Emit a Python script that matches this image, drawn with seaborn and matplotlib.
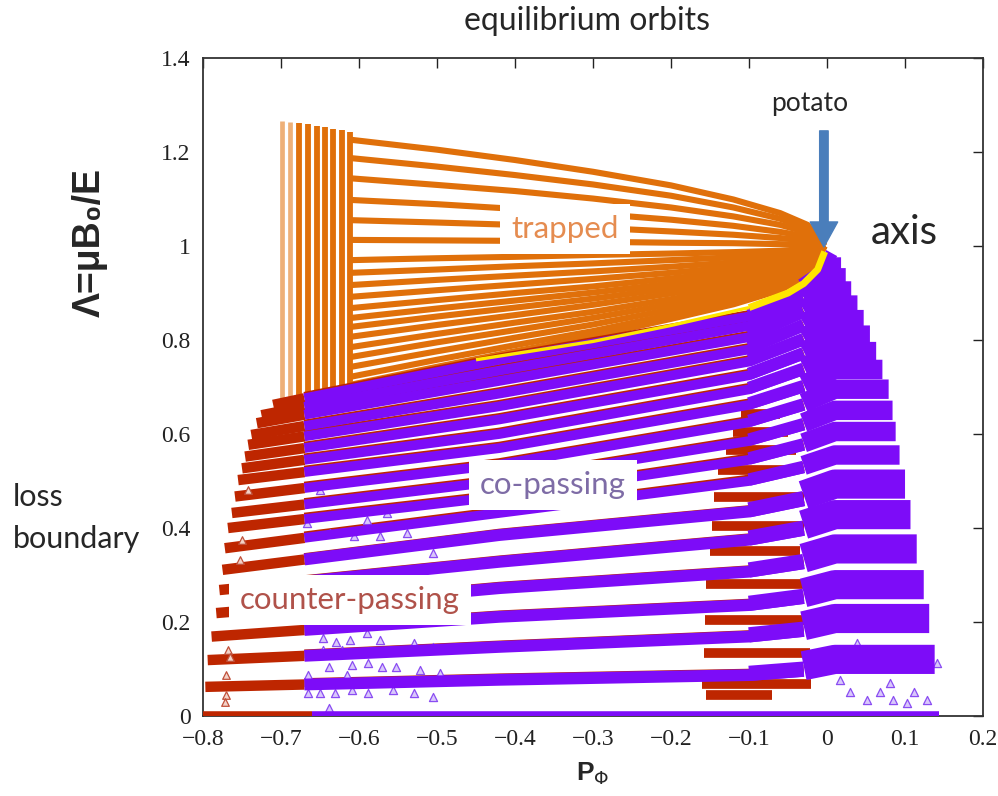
import matplotlib
matplotlib.use("Agg")
import matplotlib.pyplot as plt
from matplotlib.patches import ArrowStyle
import pandas as pd
import seaborn as sns

# ---------------- axes ----------------
x_ticks = [-0.8, -0.7, -0.6, -0.5, -0.4, -0.3, -0.2, -0.1, 0.0, 0.1, 0.2]
x_tick_labels = ["\u22120.8", "\u22120.7", "\u22120.6", "\u22120.5", "\u22120.4",
                 "\u22120.3", "\u22120.2", "\u22120.1", "0", "0.1", "0.2"]
y_ticks = [0.0, 0.2, 0.4, 0.6, 0.8, 1.0, 1.2, 1.4]
y_tick_labels = ["0", "0.2", "0.4", "0.6", "0.8", "1", "1.2", "1.4"]

# ---------------- trapped orbits ----------------
# vertical columns at the low-P edge of the trapped region
trap_col_p = [-0.699, -0.688, -0.677, -0.665, -0.654, -0.644, -0.633, -0.622, -0.611]
trap_col_top = [1.266, 1.264, 1.262, 1.259, 1.256, 1.253, 1.250, 1.247, 1.243]
trap_col_bottom = [0.668, 0.671, 0.674, 0.678, 0.682, 0.685, 0.689, 0.693, 0.697]

# rows converging onto the magnetic axis
trap_row_p = [-0.61, -0.50, -0.40, -0.30, -0.20, -0.12, -0.06, -0.025, -0.003]
trap_rows = [
    [1.226, 1.205, 1.183, 1.158, 1.129, 1.099, 1.070, 1.045, 1.0],
    [1.187, 1.169, 1.151, 1.131, 1.107, 1.082, 1.058, 1.037, 1.0],
    [1.144, 1.130, 1.117, 1.101, 1.082, 1.063, 1.045, 1.029, 1.0],
    [1.098, 1.089, 1.079, 1.069, 1.056, 1.043, 1.030, 1.020, 1.0],
    [1.055, 1.050, 1.045, 1.039, 1.031, 1.024, 1.017, 1.011, 1.0],
    [1.013, 1.012, 1.011, 1.009, 1.007, 1.006, 1.004, 1.003, 1.0],
    [0.970, 0.974, 0.977, 0.981, 0.984, 0.987, 0.990, 0.994, 1.0],
    [0.943, 0.950, 0.957, 0.963, 0.970, 0.976, 0.982, 0.988, 1.0],
    [0.917, 0.928, 0.937, 0.946, 0.956, 0.965, 0.973, 0.983, 1.0],
    [0.892, 0.906, 0.918, 0.930, 0.943, 0.955, 0.965, 0.977, 1.0],
    [0.868, 0.885, 0.900, 0.914, 0.931, 0.945, 0.958, 0.972, 1.0],
    [0.847, 0.867, 0.884, 0.901, 0.920, 0.936, 0.951, 0.968, 1.0],
    [0.828, 0.850, 0.869, 0.888, 0.910, 0.928, 0.945, 0.964, 1.0],
    [0.807, 0.832, 0.853, 0.875, 0.899, 0.919, 0.938, 0.959, 1.0],
    [0.785, 0.813, 0.837, 0.860, 0.887, 0.910, 0.931, 0.955, 1.0],
    [0.764, 0.795, 0.821, 0.847, 0.876, 0.901, 0.924, 0.950, 1.0],
    [0.743, 0.776, 0.805, 0.833, 0.865, 0.892, 0.918, 0.946, 1.0],
    [0.722, 0.758, 0.789, 0.819, 0.854, 0.883, 0.911, 0.942, 1.0],
    [0.705, 0.743, 0.776, 0.808, 0.845, 0.876, 0.906, 0.938, 1.0],
]

# potato orbits on the trapped / passing boundary
potato_p = [-0.45, -0.30, -0.20, -0.10, -0.05, -0.03, -0.012, -0.003]
potato_lam = [0.758, 0.797, 0.831, 0.869, 0.900, 0.920, 0.950, 0.988]

# ---------------- passing orbits ----------------
# counter-passing from p_left, co-passing from the first knot onwards
pass_p_knots = [-0.67, -0.42, -0.10, -0.03, 0.01]
pass_p_left = [-0.710, -0.725, -0.731, -0.738, -0.742, -0.746, -0.750, -0.755, -0.759,
               -0.763, -0.768, -0.772, -0.775, -0.779, -0.783, -0.789, -0.794, -0.797]
pass_lam_left = [0.662, 0.640, 0.623, 0.598, 0.577, 0.552, 0.527, 0.502, 0.467,
                 0.432, 0.400, 0.357, 0.311, 0.268, 0.219, 0.169, 0.119, 0.062]
pass_lam_switch = [0.676, 0.658, 0.641, 0.617, 0.595, 0.570, 0.545, 0.519, 0.485,
                   0.450, 0.419, 0.379, 0.333, 0.286, 0.235, 0.183, 0.128, 0.067]
pass_lam_m042 = [0.758, 0.735, 0.713, 0.686, 0.659, 0.631, 0.600, 0.570, 0.535,
                 0.500, 0.467, 0.432, 0.385, 0.328, 0.272, 0.211, 0.147, 0.077]
pass_lam_m010 = [0.850, 0.830, 0.806, 0.780, 0.754, 0.725, 0.695, 0.662, 0.625,
                 0.585, 0.545, 0.500, 0.435, 0.375, 0.307, 0.236, 0.169, 0.087]
pass_lam_m003 = [0.905, 0.884, 0.858, 0.829, 0.799, 0.769, 0.736, 0.699, 0.660,
                 0.618, 0.575, 0.527, 0.459, 0.396, 0.325, 0.251, 0.181, 0.096]
pass_lam_p001 = [0.945, 0.922, 0.894, 0.864, 0.833, 0.800, 0.765, 0.727, 0.685,
                 0.640, 0.595, 0.545, 0.475, 0.410, 0.337, 0.261, 0.189, 0.102]
pass_p_right = [0.018, 0.024, 0.031, 0.039, 0.047, 0.055, 0.063, 0.071, 0.079,
                0.084, 0.088, 0.093, 0.100, 0.107, 0.115, 0.124, 0.131, 0.138]

# co-passing orbits closest to the magnetic axis
axis_p = [-0.020, -0.004, 0.006]
axis_lam = [0.925, 0.955, 0.985]

# counter-passing clusters between the co-passing bands
red_gap_lam = [0.045, 0.068, 0.133, 0.205, 0.280, 0.352, 0.405, 0.465, 0.523, 0.565, 0.605, 0.643]
red_gap_p0 = [-0.155, -0.160, -0.158, -0.157, -0.155, -0.150, -0.148, -0.145, -0.140, -0.130, -0.120, -0.110]
red_gap_p1 = [-0.070, -0.020, -0.022, -0.025, -0.030, -0.035, -0.030, -0.030, -0.040, -0.040, -0.050, -0.060]

# isolated orbits scattered between the bands
stray_co_p = [-0.646, -0.629, -0.612, -0.590, -0.646, -0.622, -0.609, -0.588, -0.571, -0.639,
              -0.665, -0.616, -0.650, -0.631, -0.609, -0.588, -0.665, -0.639,
              -0.650, -0.616, -0.590, -0.564, -0.667, -0.637, -0.607, -0.573, -0.539,
              -0.522, -0.556, -0.590, -0.624, -0.505, -0.573, -0.530, -0.505, -0.552,
              -0.522, -0.496, -0.530, -0.505, -0.556,
              0.015, 0.015, 0.015, 0.017, 0.017, 0.029, 0.051, 0.068, 0.085, 0.111,
              0.128, 0.141, 0.059, 0.089, 0.038, 0.068, 0.094, 0.051, 0.081, 0.102]
stray_co_lam = [0.165, 0.158, 0.162, 0.176, 0.140, 0.140, 0.109, 0.112, 0.105, 0.105,
                0.087, 0.087, 0.048, 0.048, 0.055, 0.048, 0.048, 0.016,
                0.481, 0.431, 0.417, 0.431, 0.410, 0.389, 0.382, 0.382, 0.389,
                0.367, 0.360, 0.353, 0.346, 0.346, 0.162, 0.155, 0.147, 0.105,
                0.098, 0.091, 0.048, 0.041, 0.055,
                0.371, 0.296, 0.222, 0.137, 0.077, 0.052, 0.034, 0.052, 0.034, 0.052,
                0.034, 0.112, 0.218, 0.211, 0.155, 0.140, 0.126, 0.119, 0.070, 0.027]
stray_counter_p = [-0.7675, -0.765, -0.770, -0.770, -0.772, -0.742, -0.750, -0.753]
stray_counter_lam = [0.140, 0.126, 0.087, 0.045, 0.030, 0.481, 0.375, 0.332]

# orbits on the loss boundary (Lambda = 0)
loss_red_p = [-0.80, -0.66]
loss_purple_p = [-0.66, 0.143]
loss_lam = [0.005, 0.005]

ORANGE = "#E0700A"
PURPLE = "#7D0CF8"
RED = "#BE2600"
YELLOW = "#FFE600"

sns.set_style("white")
plt.rcParams["font.family"] = ["Lato", "DejaVu Sans"]

fig = plt.figure(figsize=(9.98, 7.96), dpi=100)
ax = fig.add_axes([0.2034, 0.1005, 0.7816, 0.8266])
ax.set_xlim(-0.8, 0.2)
ax.set_ylim(0, 1.4)

# vertical size of one point in data units (for keeping band lower edges aligned)
PT = (ax.get_ylim()[1] - ax.get_ylim()[0]) / (ax.get_position().height * fig.get_figheight() * 72)


def frame(segments):
    rows = []
    for k, (ps, ls) in enumerate(segments):
        for p, l in zip(ps, ls):
            rows.append({"P": p, "Lam": l, "seg": k})
    return pd.DataFrame(rows)


def draw(segments, color, lw, z, alpha=1.0):
    sns.lineplot(data=frame(segments), x="P", y="Lam", units="seg", estimator=None,
                 sort=False, color=color, linewidth=lw, alpha=alpha,
                 solid_capstyle="butt", legend=False, ax=ax, zorder=z)


# trapped
draw([([p, p], [b, t]) for p, b, t in zip(trap_col_p[:2], trap_col_bottom[:2], trap_col_top[:2])],
     ORANGE, 3.4, 3, alpha=0.55)
draw([([p, p], [b, t]) for p, b, t in zip(trap_col_p[2:], trap_col_bottom[2:], trap_col_top[2:])],
     ORANGE, 4.2, 3)
draw([(trap_row_p, r) for r in trap_rows], ORANGE, 4.4, 3)

# counter-passing
draw([([pl, pass_p_knots[0]], [ll, ls]) for pl, ll, ls in
      zip(pass_p_left, pass_lam_left, pass_lam_switch)], RED, 7.5, 4)
draw([(pass_p_knots[:4], [s + 0.004, a + 0.004, b + 0.004, c + 0.004]) for s, a, b, c in
      zip(pass_lam_switch, pass_lam_m042, pass_lam_m010, pass_lam_m003)], RED, 6.5, 4)
draw([([p0, p1], [l, l]) for l, p0, p1 in zip(red_gap_lam, red_gap_p0, red_gap_p1)], RED, 7.0, 4)

# scattered single orbits (underneath the bands, visible in the gaps)
sns.scatterplot(x=stray_co_p, y=stray_co_lam, marker="^", s=34, facecolor="#D9C8FB",
                edgecolor="#8A4DF2", linewidth=0.9, ax=ax, zorder=4.5, legend=False)
sns.scatterplot(x=stray_counter_p, y=stray_counter_lam, marker="^", s=30, facecolor="#F3D2C8",
                edgecolor="#C0503A", linewidth=0.9, ax=ax, zorder=4.5, legend=False)


# co-passing: thin in the middle, spreading upward near the axis
def copassing(sl, lw_mid, lw_tail, lw_right):
    mid = [(pass_p_knots[:4], [s, a, b, c]) for s, a, b, c in
           zip(pass_lam_switch[sl], pass_lam_m042[sl], pass_lam_m010[sl], pass_lam_m003[sl])]
    o1 = (lw_tail - lw_mid) / 2 * PT
    tail = [(pass_p_knots[2:4], [b + o1, c + o1]) for b, c in
            zip(pass_lam_m010[sl], pass_lam_m003[sl])]
    o2 = (lw_right - lw_mid) / 2 * PT
    right = [([pass_p_knots[3], pass_p_knots[4], pr], [c + o2 * 0.6, d + o2, d + o2])
             for c, d, pr in zip(pass_lam_m003[sl], pass_lam_p001[sl], pass_p_right[sl])]
    draw(mid, PURPLE, lw_mid, 5)
    draw(tail, PURPLE, lw_tail, 5)
    draw(right, PURPLE, lw_right, 5)


copassing(slice(0, 12), 7.0, 9.0, 14.0)
copassing(slice(12, 18), 8.5, 11.0, 21.0)
draw([(axis_p, axis_lam)], PURPLE, 9.0, 5)

# potato layer on top of the boundary
draw([(potato_p[:4], potato_lam[:4])], YELLOW, 2.4, 6)
draw([(potato_p[3:], potato_lam[3:])], YELLOW, 5.0, 6)

# loss boundary line
draw([(loss_red_p, loss_lam)], RED, 4.0, 6)
draw([(loss_purple_p, loss_lam)], PURPLE, 4.0, 6)

# ---------------- axes styling ----------------
ax.set_xlim(-0.8, 0.2)
ax.set_ylim(0, 1.4)
ax.set_xticks(x_ticks)
ax.set_yticks(y_ticks)
ax.set_xticklabels(x_tick_labels, fontfamily="Liberation Serif", fontsize=17)
ax.set_yticklabels(y_tick_labels, fontfamily="Liberation Serif", fontsize=17)
ax.tick_params(direction="in", top=True, right=True, length=7, width=1, pad=9,
               colors="#222222")
for s in ax.spines.values():
    s.set_linewidth(1.3)
    s.set_color("#333333")
ax.set_xlabel("P$_\\Phi$", fontfamily=["Liberation Sans", "DejaVu Sans"],
              fontweight="bold", fontsize=19, labelpad=8)
ax.set_ylabel("\u039b=\u03bcB\u2080/E", fontfamily=["Liberation Sans", "DejaVu Sans"],
              fontweight="bold", fontsize=27, labelpad=4)
ax.yaxis.set_label_coords(-0.122, 0.72)

# ---------------- annotations ----------------
box = dict(boxstyle="square,pad=0.35", facecolor="white", edgecolor="none")
ax.text(-0.336, 1.036, "trapped", color="#E58C50", fontsize=22.5, ha="center", va="center",
        bbox=box, zorder=10)
ax.text(-0.351, 0.4915, "co-passing", color="#7E6CA6", fontsize=22.5, ha="center",
        va="center", bbox=box, zorder=10)
ax.text(-0.6115, 0.247, "counter-passing", color="#B0524A", fontsize=22.5, ha="center",
        va="center", bbox=box, zorder=10)

ax.annotate("", xy=(-0.004, 0.998), xytext=(-0.004, 1.245),
            arrowprops=dict(arrowstyle=ArrowStyle.Simple(head_length=0.5, head_width=0.55,
                                                         tail_width=0.17),
                            mutation_scale=36, color="#4A7EBB", shrinkA=0, shrinkB=0),
            zorder=11)

fig.text(587 / 998, 1 - 21 / 796, "equilibrium orbits", fontsize=23, ha="center", va="center")
fig.text(810 / 998, 1 - 104 / 796, "potato", fontsize=19, ha="center", va="center")
fig.text(871 / 998, 1 - 232 / 796, "axis", fontsize=29, ha="left", va="center")
fig.text(13 / 998, 1 - 497 / 796, "loss", fontsize=22, ha="left", va="center")
fig.text(13 / 998, 1 - 539 / 796, "boundary", fontsize=22, ha="left", va="center")

fig.savefig("out.png", dpi=100, facecolor="white")
